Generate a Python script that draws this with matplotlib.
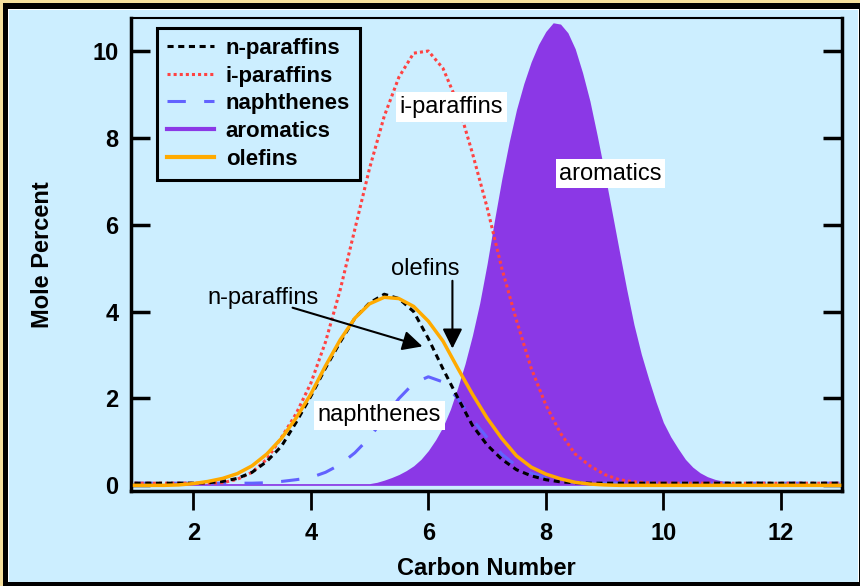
import numpy as np
import matplotlib
matplotlib.use('Agg')
import matplotlib.pyplot as plt
from matplotlib.patches import Rectangle
from matplotlib.lines import Line2D

plt.rcParams['font.family'] = ['Liberation Sans', 'DejaVu Sans']

# carbon number grid (0.25 steps) and curves
carbon = np.arange(1.0, 13.01, 0.25)

n_paraffins = [0.05, 0.05, 0.05, 0.05, 0.05, 0.06, 0.09, 0.16, 0.3, 0.55, 0.9, 1.45,
               2.05, 2.7, 3.3, 3.85, 4.2, 4.4, 4.3, 4.0, 3.38, 2.68, 2.02, 1.38,
               0.93, 0.6, 0.36, 0.22, 0.13, 0.08, 0.06] + [0.05] * 18

i_paraffins = [0.05] * 6 + [0.06, 0.14, 0.3, 0.6, 1.1, 1.65, 2.35, 3.3, 4.5, 5.9,
               7.3, 8.5, 9.4, 9.95, 10.0, 9.6, 8.8, 7.65, 6.4, 5.0, 3.8, 2.7,
               1.85, 1.2, 0.72, 0.45, 0.25, 0.13, 0.08, 0.06] + [0.05] * 13

naphthenes = [0.05] * 9 + [0.06, 0.09, 0.13, 0.18, 0.3, 0.48, 0.75, 1.1, 1.55, 2.0,
              2.35, 2.5, 2.38, 2.0, 1.52, 1.1, 0.72, 0.45, 0.28, 0.17, 0.1,
              0.07] + [0.05] * 18

olefins = [0.0, 0.0, 0.0, 0.01, 0.04, 0.09, 0.16, 0.27, 0.45, 0.72, 1.08, 1.55,
           2.1, 2.75, 3.35, 3.85, 4.18, 4.33, 4.3, 4.12, 3.78, 3.32, 2.7, 2.1,
           1.55, 1.08, 0.68, 0.42, 0.26, 0.15, 0.07, 0.03, 0.01] + [0.0] * 16

# aromatics read on a finer grid (0.125 steps) because of the sharp peak
carbon_arom = np.arange(1.0, 13.01, 0.125)
aromatics = [0.04] * 33 + [0.07, 0.12, 0.18, 0.25, 0.34, 0.45, 0.6, 0.8, 1.05, 1.35,
             1.75, 2.25, 2.8, 3.45, 4.2, 5.1, 6.1, 7.05, 7.9, 8.65, 9.25, 9.75,
             10.15, 10.45, 10.65, 10.62, 10.42, 10.05, 9.5, 8.85, 8.05, 7.2, 6.3,
             5.4, 4.52, 3.7, 3.02, 2.45, 1.92, 1.45, 1.12, 0.85, 0.6, 0.42, 0.29,
             0.2, 0.14, 0.1, 0.07] + [0.04] * 15

bg = '#CCEEFF'
purple = '#8B38E6'

fig = plt.figure(figsize=(8.6, 5.86), dpi=100, facecolor='#F5DF9C')
W, H = 860, 586
# frame: black border, thin white line, light blue inside
fig.add_artist(Rectangle((3 / W, 0), 1 - 3 / W, 1 - 3 / H, transform=fig.transFigure,
                         facecolor='black', edgecolor='none', zorder=-10))
fig.add_artist(Rectangle((8 / W, 4 / H), (859 - 8) / W, (582 - 9) / H, transform=fig.transFigure,
                         facecolor='white', edgecolor='none', zorder=-9))
fig.add_artist(Rectangle((9 / W, 4 / H), (858 - 9) / W, (582 - 10) / H, transform=fig.transFigure,
                         facecolor=bg, edgecolor='none', zorder=-8))

ax = fig.add_axes([131 / W, (586 - 491) / H, (842 - 131) / W, (491 - 18) / H])
ax.set_facecolor(bg)

ax.fill_between(carbon_arom, 0, aromatics, color=purple, lw=0, zorder=1)
ax.plot(carbon, naphthenes, color='#6262FF', lw=2.2, dashes=(6, 6), zorder=2)
ax.plot(carbon, i_paraffins, color='#FF4242', lw=2.2, dashes=(1, 1), zorder=3)
ax.plot(carbon, n_paraffins, color='black', lw=2.2, dashes=(2, 1.5), zorder=4)
ax.plot(carbon, olefins, color='#FFAA00', lw=2.5, zorder=5)

ax.set_xlim(0.94, 13.04)
ax.set_ylim(-0.13, 10.76)
ax.set_xticks([2, 4, 6, 8, 10, 12])
ax.set_yticks([0, 2, 4, 6, 8, 10])

for s in ['left', 'right', 'bottom']:
    ax.spines[s].set_linewidth(2.5)
ax.spines['top'].set_linewidth(1.5)
ax.tick_params(axis='y', direction='in', length=14, width=2.5, right=True,
               labelsize=17, pad=9)
ax.tick_params(axis='x', direction='out', length=14, width=2, labelsize=17, pad=8)
for t in ax.get_xticklabels() + ax.get_yticklabels():
    t.set_fontweight('bold')

ax.set_xlabel('Carbon Number', fontsize=17, fontweight='bold', labelpad=9)
ax.set_ylabel('Mole Percent', fontsize=17, fontweight='bold')
ax.yaxis.set_label_coords(-0.108, 0.5)

handles = [
    Line2D([], [], color='black', lw=2.2, dashes=(2, 1.5)),
    Line2D([], [], color='#FF4242', lw=2.2, dashes=(1, 1)),
    Line2D([], [], color='#6262FF', lw=2.2, dashes=(6, 6)),
    Line2D([], [], color=purple, lw=3),
    Line2D([], [], color='#FFAA00', lw=3),
]
labels = ['n-paraffins', 'i-paraffins', 'naphthenes', 'aromatics', 'olefins']
leg = ax.legend(handles, labels, loc='upper left', bbox_to_anchor=(0.0365, 0.979),
                borderaxespad=0, fancybox=False, framealpha=1, facecolor=bg,
                edgecolor='black', prop={'size': 16, 'weight': 'bold'},
                handlelength=2.1, handletextpad=0.55, labelspacing=0.3,
                borderpad=0.45)
leg.get_frame().set_linewidth(2.2)

box = dict(boxstyle='square,pad=0.15', fc='white', ec='none')
ax.text(6.39, 8.71, 'i-paraffins', fontsize=17, ha='center', va='center', bbox=box, zorder=10)
ax.text(9.10, 7.17, 'aromatics', fontsize=17, ha='center', va='center', bbox=box, zorder=10)
ax.text(5.17, 1.61, 'naphthenes', fontsize=17, ha='center', va='center', bbox=box, zorder=10)
ax.text(5.95, 4.97, 'olefins', fontsize=17, ha='center', va='center', zorder=10)
ax.text(3.19, 4.32, 'n-paraffins', fontsize=17, ha='center', va='center', zorder=10)

arrow = dict(arrowstyle='-|>,head_length=0.6,head_width=0.3', color='black', lw=1.5,
             mutation_scale=20, shrinkA=0, shrinkB=0)
ax.annotate('', xy=(5.90, 3.20), xytext=(3.69, 4.09), arrowprops=arrow, zorder=10)
ax.annotate('', xy=(6.41, 3.15), xytext=(6.41, 4.71), arrowprops=arrow, zorder=10)

fig.savefig('out.png', dpi=100, facecolor=fig.get_facecolor())
